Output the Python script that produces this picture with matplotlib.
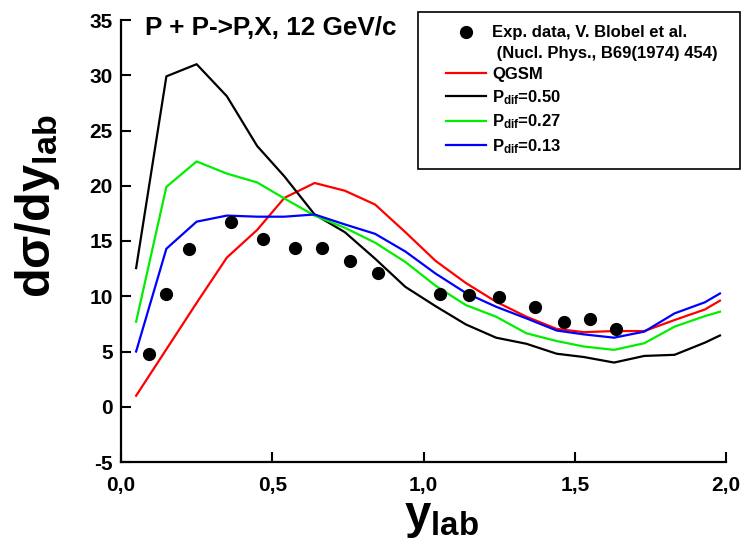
import matplotlib
matplotlib.use("Agg")
import matplotlib.pyplot as plt
from matplotlib.lines import Line2D
from matplotlib.legend_handler import HandlerLine2D

plt.rcParams['font.family'] = ['Liberation Sans', 'DejaVu Sans']
plt.rcParams['font.weight'] = 'bold'
plt.rcParams['axes.unicode_minus'] = False
plt.rcParams['mathtext.fontset'] = 'custom'
for k in ['rm', 'it', 'bf', 'sf']:
    plt.rcParams['mathtext.' + k] = 'Liberation Sans:bold'

# ---- data ----
x_model = [0.05, 0.15, 0.25, 0.35, 0.45, 0.54, 0.64, 0.74, 0.84, 0.94, 1.04,
           1.14, 1.24, 1.34, 1.44, 1.53, 1.63, 1.73, 1.83, 1.93, 1.98]
y_qgsm = [1.0, 5.2, 9.4, 13.5, 16.0, 18.9, 20.25, 19.55, 18.3, 15.8, 13.2,
          11.2, 9.5, 8.15, 7.05, 6.75, 6.85, 6.85, 7.85, 8.8, 9.6]
y_p050 = [12.55, 29.9, 31.0, 28.1, 23.6, 20.85, 17.4, 15.8, 13.4, 10.85, 9.1,
          7.45, 6.25, 5.7, 4.8, 4.5, 4.0, 4.6, 4.7, 5.8, 6.45]
y_p027 = [7.7, 19.9, 22.2, 21.1, 20.3, 18.85, 17.3, 16.2, 14.85, 13.1, 10.95,
          9.2, 8.15, 6.65, 5.95, 5.45, 5.15, 5.75, 7.25, 8.2, 8.6]
y_p013 = [5.0, 14.3, 16.75, 17.3, 17.2, 17.2, 17.4, 16.5, 15.65, 14.05, 12.05,
          10.3, 9.05, 8.0, 6.9, 6.55, 6.25, 6.8, 8.45, 9.45, 10.25]

x_exp = [0.093, 0.149, 0.224, 0.363, 0.470, 0.574, 0.664, 0.757, 0.849,
         1.053, 1.149, 1.249, 1.367, 1.464, 1.550, 1.637]
y_exp = [4.75, 10.2, 14.25, 16.75, 15.2, 14.4, 14.4, 13.2, 12.1,
         10.2, 10.1, 9.97, 9.0, 7.7, 7.95, 7.0]

x_ticks = [0.0, 0.5, 1.0, 1.5, 2.0]
x_ticklabels = ['0,0', '0,5', '1,0', '1,5', '2,0']
y_ticks = [-5, 0, 5, 10, 15, 20, 25, 30, 35]

labels = ['Exp. data, V. Blobel et al.', ' (Nucl. Phys., B69(1974) 454)', 'QGSM',
          r'P$_{dif}$=0.50', r'P$_{dif}$=0.27', r'P$_{dif}$=0.13']
colors = ['#ff0000', '#000000', '#00ee00', '#0000ff']

W, H = 741, 543
fig = plt.figure(figsize=(W / 100, H / 100), dpi=100)
ax = fig.add_axes([121 / W, 1 - 462 / H, (726 - 121) / W, (462 - 20) / H])

lw = 1.6
ax.plot(x_model, y_qgsm, color=colors[0], lw=lw)
ax.plot(x_model, y_p050, color=colors[1], lw=lw)
ax.plot(x_model, y_p027, color=colors[2], lw=lw)
ax.plot(x_model, y_p013, color=colors[3], lw=lw)
ax.plot(x_exp, y_exp, 'o', color='black', ms=8.5, mec='black')

ax.set_xlim(0, 2.0)
ax.set_ylim(-5, 35)
ax.set_xticks(x_ticks)
ax.set_xticklabels(x_ticklabels)
ax.set_yticks(y_ticks)
ax.spines['top'].set_visible(False)
ax.spines['right'].set_visible(False)
for s in ['left', 'bottom']:
    ax.spines[s].set_linewidth(1.6)
ax.tick_params(direction='in', length=7, width=1.5, labelsize=15)
ax.tick_params(axis='x', pad=10)
ax.tick_params(axis='y', pad=6)
for t in ax.get_xticklabels() + ax.get_yticklabels():
    t.set_fontweight('bold')

fig.text(145 / W, 1 - 28 / H, 'P + P->P,X, 12 GeV/c', fontsize=18.8,
         fontweight='bold', ha='left', va='center')
fig.text(38 / W, 1 - 206 / H, r'd$\sigma$/dy$_{lab}$', fontsize=35, fontweight='bold',
         rotation=90, ha='center', va='center')
fig.text(442 / W, 1 - 518 / H, r'y$_{lab}$', fontsize=34, fontweight='bold',
         ha='center', va='center')

handles = [Line2D([], [], ls='none', marker='o', color='black', ms=8.5),
           Line2D([], [], ls='none'),
           Line2D([], [], color=colors[0], lw=lw),
           Line2D([], [], color=colors[1], lw=lw),
           Line2D([], [], color=colors[2], lw=lw),
           Line2D([], [], color=colors[3], lw=lw)]
fs = 12
leg = fig.legend(handles, labels, loc='upper left',
                 bbox_to_anchor=(418 / W, 1 - 164 / H, (740 - 418) / W, (164 - 12) / H),
                 mode='expand', borderaxespad=0, fancybox=False, framealpha=1,
                 edgecolor='black', prop={'weight': 'bold', 'size': fs},
                 handlelength=3.3, handletextpad=0.35, labelspacing=0.35,
                 borderpad=0.8,
                 handler_map={Line2D: HandlerLine2D(xpad=0.85)})
leg.get_frame().set_linewidth(1.2)

fig.savefig('out.png', dpi=100)
